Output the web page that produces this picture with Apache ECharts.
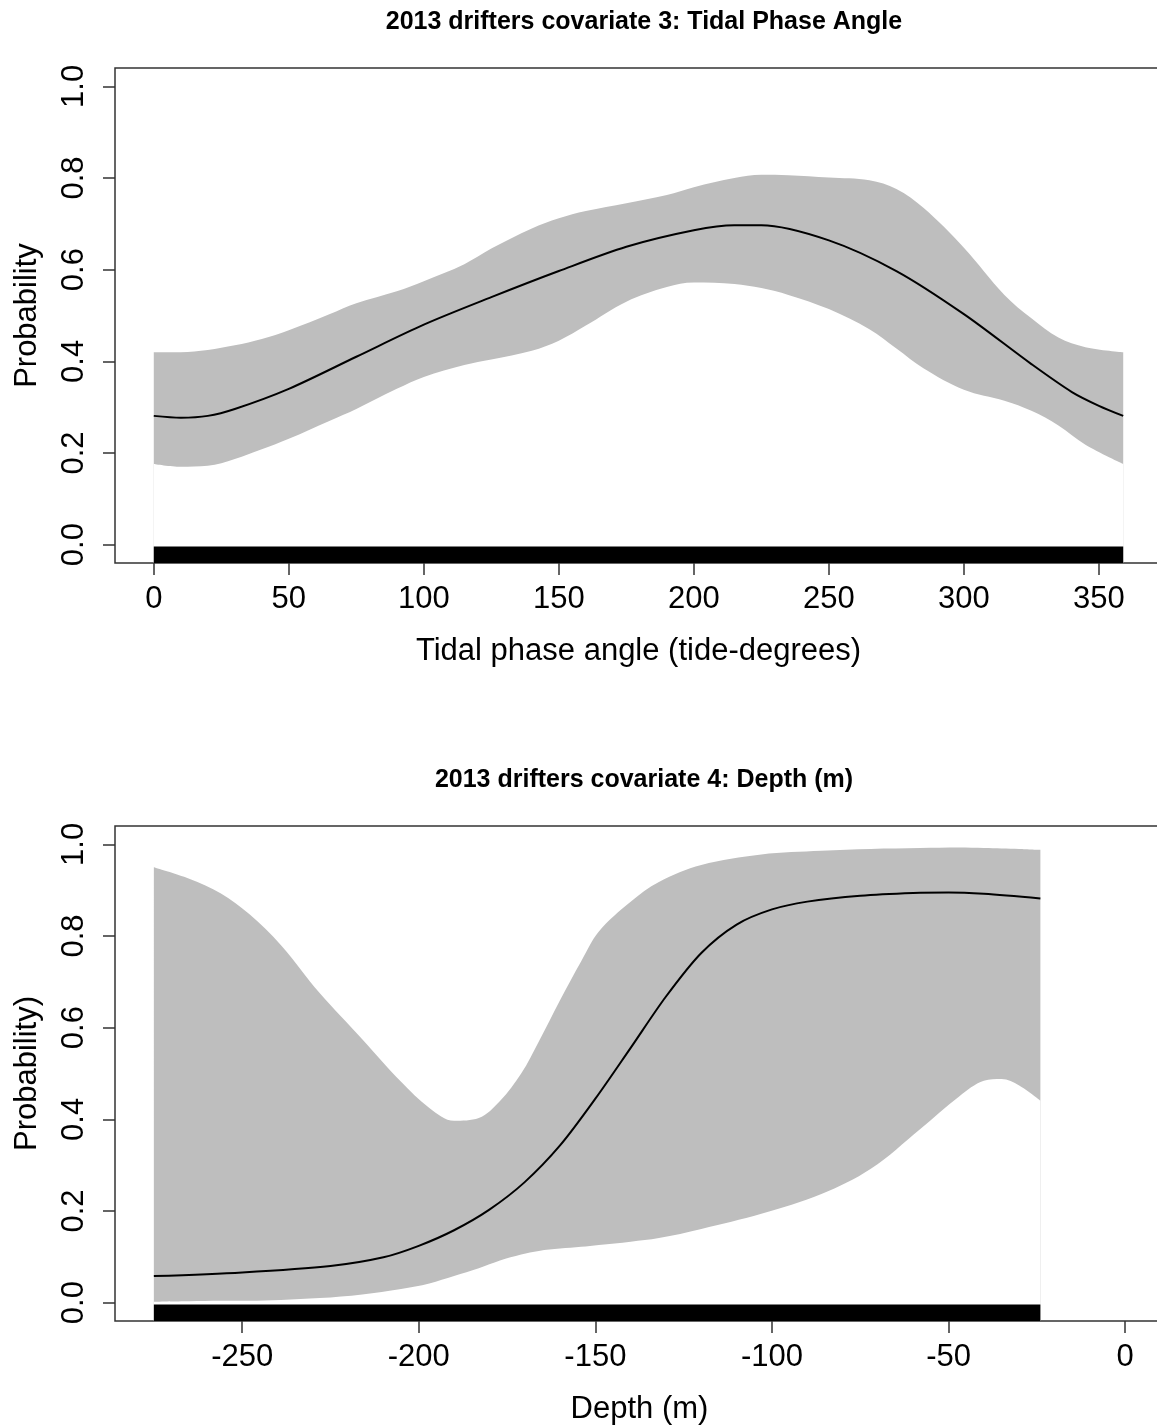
<!DOCTYPE html>
<html>
<head>
<meta charset="utf-8">
<script src="https://cdn.jsdelivr.net/npm/echarts@6/dist/echarts.min.js"></script>
<style>
  html, body { margin: 0; padding: 0; background: #fff; }
  #container { width: 1157px; height: 1427px; }
</style>
</head>
<body>
<div id="container"></div>
<script>
  // covariate 3: tidal phase angle
  var tideX = [0, 10, 20, 30, 50, 75, 100, 125, 150, 175, 200, 215, 225, 250, 275, 300, 325, 340, 350, 359];
  var tideMean = [0.281, 0.277, 0.281, 0.296, 0.34, 0.41, 0.48, 0.54, 0.597, 0.65, 0.686, 0.697, 0.697, 0.664, 0.597, 0.503, 0.394, 0.333, 0.303, 0.281];
  var tideBandX = [0, 10, 20, 30, 40, 50, 65, 75, 90, 100, 115, 125, 140, 150, 160, 175, 190, 200, 215, 225, 235, 250, 265, 275, 285, 300, 315, 325, 335, 345, 359];
  var tideLower = [0.176, 0.17, 0.172, 0.187, 0.208, 0.231, 0.27, 0.296, 0.34, 0.366, 0.392, 0.404, 0.423, 0.445, 0.478, 0.53, 0.562, 0.572, 0.569, 0.56, 0.545, 0.514, 0.47, 0.428, 0.385, 0.338, 0.314, 0.292, 0.26, 0.218, 0.176];
  var tideUpper = [0.42, 0.42, 0.425, 0.435, 0.449, 0.468, 0.503, 0.527, 0.553, 0.575, 0.612, 0.646, 0.69, 0.712, 0.728, 0.745, 0.763, 0.78, 0.8, 0.807, 0.806, 0.801, 0.795, 0.776, 0.735, 0.648, 0.545, 0.494, 0.452, 0.431, 0.42];
  var tideRug = [0, 359];
  var tideTicks = [0, 50, 100, 150, 200, 250, 300, 350];

  // covariate 4: depth
  var depthX = [-275, -250, -225, -210, -200, -190, -180, -170, -160, -150, -140, -130, -120, -110, -100, -90, -75, -60, -50, -40, -24];
  var depthMean = [0.058, 0.066, 0.08, 0.099, 0.124, 0.158, 0.203, 0.263, 0.343, 0.445, 0.556, 0.668, 0.763, 0.825, 0.858, 0.875, 0.888, 0.894, 0.895, 0.892, 0.882];
  var depthBandX = [-275, -265, -256, -248, -239, -228, -216, -205, -197, -190, -183, -177, -171, -166, -160, -154, -149, -140, -132, -120, -103, -86, -72, -58, -47, -40, -35, -30, -24];
  var depthLower = [0.002, 0.003, 0.004, 0.004, 0.006, 0.01, 0.018, 0.03, 0.042, 0.058, 0.075, 0.092, 0.105, 0.113, 0.118, 0.122, 0.126, 0.133, 0.141, 0.161, 0.194, 0.237, 0.292, 0.379, 0.45, 0.484, 0.488, 0.474, 0.441];
  var depthUpper = [0.95, 0.925, 0.893, 0.848, 0.78, 0.675, 0.575, 0.482, 0.425, 0.397, 0.403, 0.44, 0.5, 0.57, 0.66, 0.745, 0.81, 0.875, 0.918, 0.955, 0.978, 0.986, 0.99, 0.992, 0.993, 0.992, 0.991, 0.99, 0.988];
  var depthRug = [-275, -24];
  var depthTicks = [-250, -200, -150, -100, -50, 0];

  var yTicks = [0, 0.2, 0.4, 0.6, 0.8, 1.0];

  var FONT = 'Liberation Sans';
  var AXIS_COL = '#333';
  var BAND_COL = '#bebebe';

  function pairs(xs, ys) {
    return xs.map(function (x, i) { return [x, ys[i]]; });
  }

  function rugItem(params, api) {
    var p0 = api.coord([api.value(0), -0.004]);
    var p1 = api.coord([api.value(1), -0.04]);
    return {
      type: 'rect',
      shape: { x: p0[0], y: p0[1], width: p1[0] - p0[0], height: p1[1] - p0[1] },
      style: { fill: '#000' }
    };
  }

  function xAxisFor(idx, min, max, ticks, name) {
    return {
      gridIndex: idx, type: 'value', min: min, max: max,
      splitLine: { show: false },
      axisLine: { show: false, onZero: false },
      axisTick: { show: true, inside: false, length: 12, customValues: ticks, lineStyle: { color: AXIS_COL, width: 1.5 } },
      axisLabel: { customValues: ticks, margin: 21, fontSize: 31, color: '#000', fontFamily: FONT,
        formatter: function (v) { return String(v); } },
      name: name, nameLocation: 'middle', nameGap: 73,
      nameTextStyle: { fontSize: 31, color: '#000', fontFamily: FONT }
    };
  }

  function yAxisFor(idx, name) {
    return {
      gridIndex: idx, type: 'value', min: -0.04, max: 1.04,
      splitLine: { show: false },
      axisLine: { show: false, onZero: false },
      axisTick: { show: true, inside: false, length: 12, customValues: yTicks, lineStyle: { color: AXIS_COL, width: 1.5 } },
      axisLabel: { customValues: yTicks, rotate: 90, margin: 25, fontSize: 31, color: '#000', fontFamily: FONT,
        formatter: function (v) { return v.toFixed(1); } },
      name: name, nameLocation: 'middle', nameGap: 72,
      nameTextStyle: { fontSize: 31, color: '#000', fontFamily: FONT }
    };
  }

  // grey band: upper edge filled down to the axis, then the area under the lower edge painted white
  function bandSeries(idx, xs, lo, hi) {
    return [
      {
        type: 'line', xAxisIndex: idx, yAxisIndex: idx,
        data: pairs(xs, hi), smooth: 0.35, symbol: 'none', silent: true,
        lineStyle: { width: 0, opacity: 0 },
        areaStyle: { color: BAND_COL, opacity: 1, origin: 'start' }
      },
      {
        type: 'line', xAxisIndex: idx, yAxisIndex: idx,
        data: pairs(xs, lo), smooth: 0.35, symbol: 'none', silent: true,
        lineStyle: { width: 0, opacity: 0 },
        areaStyle: { color: '#fff', opacity: 1, origin: 'start' }
      }
    ];
  }

  var dom = document.getElementById('container');
  var myChart = echarts.init(dom, null, { renderer: 'canvas' });

  var option = {
    animation: false,
    backgroundColor: '#fff',
    title: [
      { text: '2013 drifters covariate 3: Tidal Phase Angle', left: 639, top: 5, textAlign: 'center',
        textStyle: { fontSize: 25, fontWeight: 'bold', color: '#000', fontFamily: FONT } },
      { text: '2013 drifters covariate 4: Depth (m)', left: 639, top: 763, textAlign: 'center',
        textStyle: { fontSize: 25, fontWeight: 'bold', color: '#000', fontFamily: FONT } }
    ],
    grid: [
      { left: 115, top: 68, width: 1047, height: 495, show: true, borderColor: AXIS_COL, borderWidth: 1.5,
        backgroundColor: 'transparent', outerBoundsMode: 'none' },
      { left: 115, top: 826, width: 1049, height: 495, show: true, borderColor: AXIS_COL, borderWidth: 1.5,
        backgroundColor: 'transparent', outerBoundsMode: 'none' }
    ],
    xAxis: [
      xAxisFor(0, -14.36, 373.36, tideTicks, 'Tidal phase angle (tide-degrees)'),
      xAxisFor(1, -286, 11, depthTicks, 'Depth (m)')
    ],
    yAxis: [
      yAxisFor(0, 'Probability'),
      yAxisFor(1, 'Probability)')
    ],
    series: [].concat(
      bandSeries(0, tideBandX, tideLower, tideUpper),
      bandSeries(1, depthBandX, depthLower, depthUpper),
      [
        { type: 'line', xAxisIndex: 0, yAxisIndex: 0, data: pairs(tideX, tideMean), smooth: 0.3,
          symbol: 'none', z: 3, lineStyle: { color: '#000', width: 2 } },
        { type: 'line', xAxisIndex: 1, yAxisIndex: 1, data: pairs(depthX, depthMean), smooth: 0.3,
          symbol: 'none', z: 3, lineStyle: { color: '#000', width: 2 } },
        { type: 'custom', xAxisIndex: 0, yAxisIndex: 0, z: 4, data: [tideRug], renderItem: rugItem },
        { type: 'custom', xAxisIndex: 1, yAxisIndex: 1, z: 4, data: [depthRug], renderItem: rugItem }
      ]
    )
  };

  if (option && typeof option === 'object') {
    myChart.setOption(option);
  }

  window.addEventListener('resize', myChart.resize);
</script>
</body>
</html>
